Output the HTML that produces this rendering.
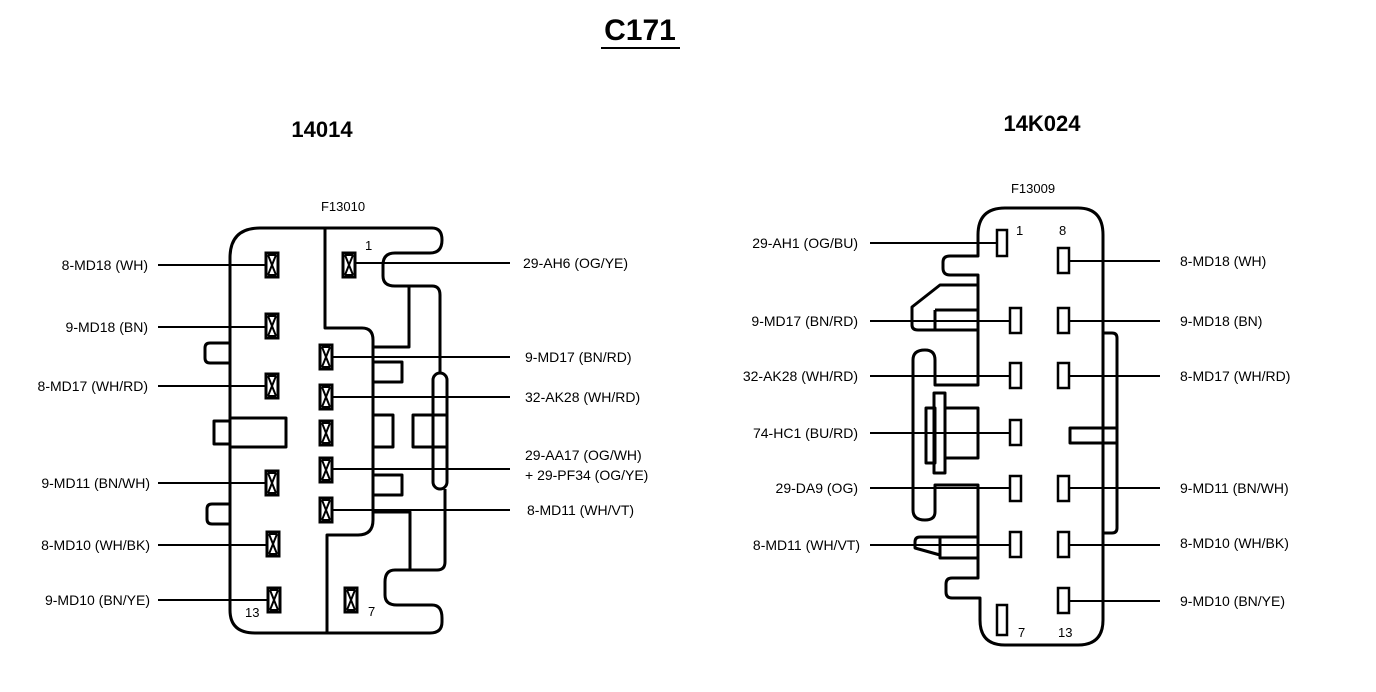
<!DOCTYPE html>
<html><head><meta charset="utf-8"><style>
html,body{margin:0;padding:0;background:#fff;}
svg{display:block;}
text{font-family:"Liberation Sans",Arial,sans-serif;fill:#000;}
.l{font-size:14px;}
</style></head><body>
<svg width="1376" height="692" viewBox="0 0 1376 692" xmlns="http://www.w3.org/2000/svg">
<defs>
<g id="pin" fill="none" stroke="#000" stroke-width="2"><rect x="-6" y="-12" width="12" height="24" stroke-width="3"/><path d="M-4,-10 L4,10 M4,-10 L-4,10 M-4,-10 L4,-10 M-4,10 L4,10"/></g>
</defs>
<rect width="1376" height="692" fill="#fff"/>
<text x="640" y="40" font-size="30" font-weight="bold" text-anchor="middle">C171</text>
<line x1="601" y1="48" x2="680" y2="48" stroke="#000" stroke-width="2"/>
<text x="322" y="137" font-size="22" font-weight="bold" text-anchor="middle">14014</text>
<text x="1042" y="131" font-size="22" font-weight="bold" text-anchor="middle">14K024</text>
<text x="343" y="211" font-size="13" text-anchor="middle">F13010</text>
<text x="1033" y="193" font-size="13" text-anchor="middle">F13009</text>

<g fill="none" stroke="#000" stroke-width="3" stroke-linejoin="round">
<path d="M230,610 L230,258 Q230,228 260,228 L432,228 Q442,228 442,240 Q442,253 430,253 L395,253 Q383,253 383,265 L383,276 Q383,286 395,286 L432,286 Q440,286 440,295 L440,373"/>
<rect x="433" y="373" width="14" height="116" rx="7"/>
<path d="M445,489 L445,562 Q445,570 437,570 L395,570 Q385,570 385,582 L385,595 Q385,605 397,605 L432,605 Q442,605 442,618 L442,622 Q442,633 430,633 L255,633 Q230,633 230,610"/>
<path d="M325,228 L325,328 L362,328 Q373,328 373,340 L373,520 Q373,535 358,535 L327,535 L327,633"/>
<path d="M373,347 L409,347 L409,286"/>
<path d="M373,512 L410,512 L410,570"/>
<path d="M373,362 L402,362 L402,382 L373,382"/>
<path d="M373,415 L393,415 L393,447 L373,447"/>
<rect x="413" y="415" width="34" height="32"/>
<path d="M373,475 L402,475 L402,495 L373,495"/>
<path d="M230,343 L210,343 Q205,343 205,348 L205,358 Q205,363 210,363 L230,363"/>
<path d="M230,418 L286,418 L286,447 L230,447 M230,421 L214,421 L214,444 L230,444"/>
<path d="M230,504 L212,504 Q207,504 207,509 L207,519 Q207,524 212,524 L230,524"/>

<path d="M978,235 Q978,208 1005,208 L1078,208 Q1103,208 1103,235 L1103,620 Q1103,645 1078,645 L1005,645 Q980,645 980,620 L980,598 L952,598 Q946,598 946,592 L946,584 Q946,578 952,578 L978,578 L978,537 L940,537 L940,555 L915,548 L915,542 Q915,537 920,537 L940,537 M978,537 L978,485 L935,485 L935,512 Q935,520 925,520 Q913,520 913,510 L913,360 Q913,350 925,350 Q935,350 935,360 L935,385 L978,385 L978,285 L940,285 L912,307 L912,325 Q912,330 918,330 L978,330 M978,285 L978,275 L950,275 Q943,275 943,268 L943,262 Q943,256 950,256 L978,256 L978,235"/>
<path d="M935,310 L978,310 M935,310 L935,330"/>
<path d="M940,537 L940,558 L978,558"/>
<rect x="934" y="393" width="11" height="80"/>
<rect x="926" y="408" width="9" height="55"/>
<rect x="945" y="408" width="33" height="50"/>
<path d="M1103,333 L1112,333 Q1117,333 1117,338 L1117,528 Q1117,533 1112,533 L1103,533"/>
<path d="M1117,428 L1070,428 L1070,443 L1117,443 M1103,428 L1103,443"/>
</g>

<g fill="#fff" stroke="#000" stroke-width="2.5">
<rect x="997" y="230" width="10" height="26"/>
<rect x="1058" y="248" width="11" height="25"/>
<rect x="997" y="605" width="10" height="30"/>
<rect x="1010" y="308" width="11" height="25"/><rect x="1058" y="308" width="11" height="25"/>
<rect x="1010" y="363" width="11" height="25"/><rect x="1058" y="363" width="11" height="25"/>
<rect x="1010" y="420" width="11" height="25"/>
<rect x="1010" y="476" width="11" height="25"/><rect x="1058" y="476" width="11" height="25"/>
<rect x="1010" y="532" width="11" height="25"/><rect x="1058" y="532" width="11" height="25"/>
<rect x="1058" y="588" width="11" height="25"/>
</g>

<g>
<use href="#pin" x="272" y="265"/><use href="#pin" x="272" y="326"/><use href="#pin" x="272" y="386"/>
<use href="#pin" x="272" y="483"/><use href="#pin" x="273" y="544"/><use href="#pin" x="274" y="600"/>
<use href="#pin" x="326" y="357"/><use href="#pin" x="326" y="397"/><use href="#pin" x="326" y="433"/>
<use href="#pin" x="326" y="470"/><use href="#pin" x="326" y="510"/>
<use href="#pin" x="349" y="265"/><use href="#pin" x="351" y="600"/>
</g>

<g stroke="#000" stroke-width="2">
<line x1="158" y1="265" x2="266" y2="265"/><line x1="158" y1="327" x2="266" y2="327"/>
<line x1="158" y1="386" x2="266" y2="386"/><line x1="158" y1="483" x2="266" y2="483"/>
<line x1="158" y1="545" x2="267" y2="545"/><line x1="158" y1="600" x2="268" y2="600"/>
<line x1="355" y1="263" x2="510" y2="263"/><line x1="332" y1="357" x2="510" y2="357"/>
<line x1="332" y1="397" x2="510" y2="397"/><line x1="332" y1="469" x2="510" y2="469"/>
<line x1="332" y1="510" x2="510" y2="510"/>
<line x1="870" y1="243" x2="997" y2="243"/><line x1="870" y1="321" x2="1010" y2="321"/>
<line x1="870" y1="376" x2="1010" y2="376"/><line x1="870" y1="433" x2="1010" y2="433"/>
<line x1="870" y1="488" x2="1010" y2="488"/><line x1="870" y1="545" x2="1010" y2="545"/>
<line x1="1069" y1="261" x2="1160" y2="261"/><line x1="1069" y1="321" x2="1160" y2="321"/>
<line x1="1069" y1="376" x2="1160" y2="376"/><line x1="1069" y1="488" x2="1160" y2="488"/>
<line x1="1069" y1="545" x2="1160" y2="545"/><line x1="1069" y1="601" x2="1160" y2="601"/>
</g>

<g class="l">
<g text-anchor="end">
<text x="148" y="270">8-MD18 (WH)</text><text x="148" y="332">9-MD18 (BN)</text>
<text x="148" y="391">8-MD17 (WH/RD)</text><text x="150" y="488">9-MD11 (BN/WH)</text>
<text x="150" y="550">8-MD10 (WH/BK)</text><text x="150" y="605">9-MD10 (BN/YE)</text>
<text x="858" y="248">29-AH1 (OG/BU)</text><text x="858" y="326">9-MD17 (BN/RD)</text>
<text x="858" y="381">32-AK28 (WH/RD)</text><text x="858" y="438">74-HC1 (BU/RD)</text>
<text x="858" y="493">29-DA9 (OG)</text><text x="860" y="550">8-MD11 (WH/VT)</text>
</g>
<text x="523" y="268">29-AH6 (OG/YE)</text><text x="525" y="362">9-MD17 (BN/RD)</text>
<text x="525" y="402">32-AK28 (WH/RD)</text><text x="525" y="460">29-AA17 (OG/WH)</text>
<text x="525" y="480">+ 29-PF34 (OG/YE)</text><text x="527" y="515">8-MD11 (WH/VT)</text>
<text x="1180" y="266">8-MD18 (WH)</text><text x="1180" y="326">9-MD18 (BN)</text>
<text x="1180" y="381">8-MD17 (WH/RD)</text><text x="1180" y="493">9-MD11 (BN/WH)</text>
<text x="1180" y="548">8-MD10 (WH/BK)</text><text x="1180" y="606">9-MD10 (BN/YE)</text>
<text x="365" y="250" font-size="13">1</text><text x="368" y="616" font-size="13">7</text>
<text x="245" y="617" font-size="13">13</text>
<text x="1016" y="235" font-size="13">1</text><text x="1059" y="235" font-size="13">8</text>
<text x="1018" y="637" font-size="13">7</text><text x="1058" y="637" font-size="13">13</text>
</g>
</svg>
</body></html>
